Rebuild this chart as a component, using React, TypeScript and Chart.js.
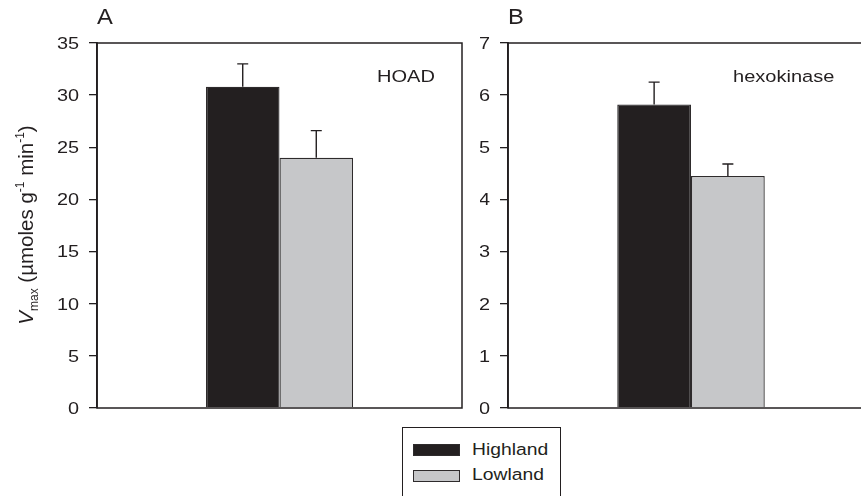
import React, { useEffect, useRef } from "react";
import { Chart, registerables } from "chart.js";

Chart.register(...registerables);

const categories = [""];
const seriesNames = ["Highland", "Lowland"];
const seriesColors = ["#231f20", "#c6c7c9"];
const hoadValues = [30.8, 24.0];
const hoadErrors = [2.2, 2.6];
const hexoValues = [5.82, 4.45];
const hexoErrors = [0.43, 0.23];
const hoadTickMax = 35;
const hoadTickStep = 5;
const hexoTickMax = 7;
const hexoTickStep = 1;

const FONT = "'Liberation Sans', Arial, sans-serif";
const INK = "#231f20";
const SX = 1.22;

type PanelSpec = {
  values: number[];
  errors: number[];
  max: number;
  step: number;
  letter: string;
  name: string;
  yWidth: number;
  letterX: number;
  nameX: number;
  padRight: number;
  yTitle: boolean;
};

function stretchText(ctx: any, text: string, x: number, y: number, font: string, sx: number, align: string) {
  ctx.save();
  ctx.font = font;
  ctx.translate(x, y);
  ctx.scale(sx, 1);
  ctx.textAlign = align;
  ctx.textBaseline = "alphabetic";
  ctx.fillText(text, 0, 0);
  ctx.restore();
}

function makeChart(canvas: HTMLCanvasElement, p: PanelSpec) {
  const errorBars = {
    id: "errorBars",
    afterDatasetsDraw(chart: any) {
      const ctx = chart.ctx;
      const y = chart.scales.y;
      ctx.save();
      ctx.strokeStyle = INK;
      ctx.lineWidth = 1.4;
      chart.data.datasets.forEach((ds: any, i: number) => {
        const meta = chart.getDatasetMeta(i);
        meta.data.forEach((bar: any, j: number) => {
          const v = ds.data[j];
          const e = p.errors[i];
          const yTop = y.getPixelForValue(v + e);
          ctx.beginPath();
          ctx.moveTo(bar.x, bar.y);
          ctx.lineTo(bar.x, yTop);
          ctx.moveTo(bar.x - 5.5, yTop);
          ctx.lineTo(bar.x + 5.5, yTop);
          ctx.stroke();
        });
      });
      ctx.restore();
    },
  };
  const frame = {
    id: "frame",
    afterDraw(chart: any) {
      const ctx = chart.ctx;
      const a = chart.chartArea;
      const ys = chart.scales.y;
      ctx.save();
      ctx.strokeStyle = INK;
      ctx.lineWidth = 1.5;
      ctx.strokeRect(a.left, a.top, a.right - a.left, a.bottom - a.top);
      ctx.fillStyle = INK;
      ys.ticks.forEach((t: any) => {
        const py = ys.getPixelForValue(t.value);
        stretchText(ctx, String(t.value), a.left - 18, py + 5.9, `16.3px ${FONT}`, SX, "right");
      });
      stretchText(ctx, p.letter, p.letterX, 24, `22px ${FONT}`, 1.08, "left");
      stretchText(ctx, p.name, p.nameX, 81.7, `16.3px ${FONT}`, 1.23, "left");
      if (p.yTitle) {
        const big = 20.5;
        const small = 12;
        const segs = [
          { t: "V", f: `italic ${big}px ${FONT}`, dy: 0 },
          { t: "max", f: `${small}px ${FONT}`, dy: 5 },
          { t: " (\u00b5moles g", f: `${big}px ${FONT}`, dy: 0 },
          { t: "-1", f: `${small}px ${FONT}`, dy: -9 },
          { t: " min", f: `${big}px ${FONT}`, dy: 0 },
          { t: "-1", f: `${small}px ${FONT}`, dy: -9 },
          { t: ")", f: `${big}px ${FONT}`, dy: 0 },
        ];
        let total = 0;
        segs.forEach((s) => {
          ctx.font = s.f;
          total += ctx.measureText(s.t).width;
        });
        ctx.translate(33, 225);
        ctx.scale(1.0, 1);
        ctx.rotate(-Math.PI / 2);
        ctx.textAlign = "left";
        ctx.textBaseline = "alphabetic";
        let x = -total / 2;
        segs.forEach((s) => {
          ctx.font = s.f;
          ctx.fillText(s.t, x, s.dy);
          x += ctx.measureText(s.t).width;
        });
      }
      ctx.restore();
    },
  };

  return new Chart(canvas, {
    type: "bar",
    data: {
      labels: categories,
      datasets: seriesNames.map((n, i) => ({
        label: n,
        data: [p.values[i]],
        backgroundColor: seriesColors[i],
        borderColor: "#2e2b2c",
        borderWidth: 1.3,
        borderSkipped: "bottom",
        barPercentage: 1,
        categoryPercentage: 0.403,
      })),
    },
    options: {
      responsive: false,
      animation: false,
      devicePixelRatio: 1,
      layout: { autoPadding: false, padding: { left: 0, top: 43, right: p.padRight, bottom: 12 } },
      plugins: { legend: { display: false }, tooltip: { enabled: false }, title: { display: false } },
      scales: {
        x: { display: false },
        y: {
          min: 0,
          max: p.max,
          afterFit: (s: any) => {
            s.width = p.yWidth;
          },
          ticks: {
            display: false,
            stepSize: p.step,
          },
          grid: {
            drawOnChartArea: false,
            drawTicks: true,
            tickLength: 8,
            color: INK,
            lineWidth: 1.3,
          },
          border: { display: true, color: INK, width: 1.8 },
        },
      },
    },
    plugins: [errorBars, frame],
  } as any);
}

export default function App() {
  const refA = useRef<HTMLCanvasElement>(null);
  const refB = useRef<HTMLCanvasElement>(null);
  useEffect(() => {
    const a = makeChart(refA.current!, {
      values: hoadValues,
      errors: hoadErrors,
      max: hoadTickMax,
      step: hoadTickStep,
      letter: "A",
      name: "HOAD",
      yWidth: 97,
      letterX: 97,
      nameX: 377,
      padRight: 18,
      yTitle: true,
    });
    const b = makeChart(refB.current!, {
      values: hexoValues,
      errors: hexoErrors,
      max: hexoTickMax,
      step: hexoTickStep,
      letter: "B",
      name: "hexokinase",
      yWidth: 28,
      letterX: 28,
      nameX: 253,
      padRight: 8,
      yTitle: false,
    });
    return () => {
      a.destroy();
      b.destroy();
    };
  }, []);

  return (
    <div
      style={{
        position: "fixed",
        left: 0,
        top: 0,
        width: 861,
        height: 496,
        overflow: "hidden",
        background: "#fff",
        fontFamily: FONT,
      }}
    >
      <canvas ref={refA} width={480} height={420} style={{ position: "absolute", left: 0, top: 0, width: 480, height: 420 }} />
      <canvas ref={refB} width={402} height={420} style={{ position: "absolute", left: 480, top: 0, width: 402, height: 420 }} />
      <div
        style={{
          position: "absolute",
          left: 402,
          top: 427,
          width: 159,
          height: 90,
          border: `1.3px solid ${INK}`,
          boxSizing: "border-box",
        }}
      >
        {seriesNames.map((n, i) => (
          <div key={n} style={{ position: "absolute", left: 0, top: 0, width: 159, height: 80 }}>
            <div
              style={{
                position: "absolute",
                left: 10,
                top: 16 + i * 26,
                width: 47,
                height: 12,
                background: seriesColors[i],
                border: "1.3px solid #2e2b2c",
                boxSizing: "border-box",
              }}
            />
            <span
              style={{
                position: "absolute",
                left: 69,
                top: 12 + i * 25,
                fontSize: 16.8,
                lineHeight: "20px",
                color: INK,
                whiteSpace: "nowrap",
                transform: "scaleX(1.15)",
                transformOrigin: "left center",
              }}
            >
              {n}
            </span>
          </div>
        ))}
      </div>
    </div>
  );
}
